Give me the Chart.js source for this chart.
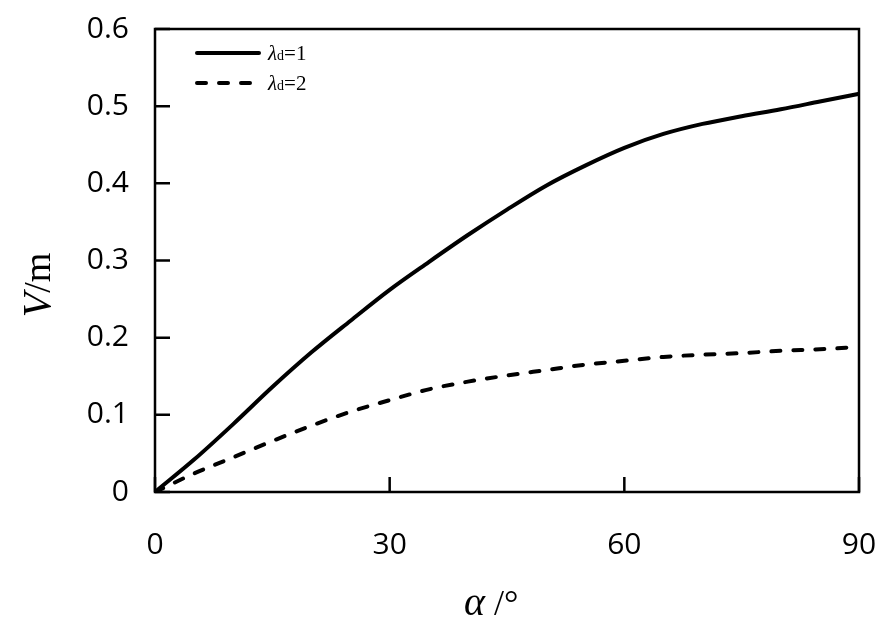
<!DOCTYPE html>
<html>
<head>
	<title>V vs alpha</title>
	<script src="https://cdn.jsdelivr.net/npm/chart.js"></script>
	<style>
		html, body {
			margin: 0;
			padding: 0;
			background: #fff;
		}

		.chart {
			width: 886px;
			height: 642px;
		}
	</style>
</head>

<body>
	<div class="chart">
		<canvas id="myChart"></canvas>
	</div>

	<script>
		// angle alpha in degrees
		var alpha = [ 0, 5, 10, 15, 20, 25, 30, 35, 40, 45, 50, 55, 60, 65, 70, 75, 80, 85, 90 ];

		// V in m, lambda_d = 1 (solid)
		var vLambda1 = [ 0, 0.042, 0.088, 0.136, 0.181, 0.222, 0.262, 0.298, 0.333, 0.366, 0.397, 0.423, 0.446, 0.464, 0.477, 0.487, 0.496, 0.506, 0.516 ];

		// V in m, lambda_d = 2 (dashed)
		var vLambda2 = [ 0, 0.024, 0.045, 0.066, 0.086, 0.104, 0.119, 0.133, 0.143, 0.151, 0.158, 0.165, 0.170, 0.175, 0.178, 0.180, 0.183, 0.185, 0.188 ];

		var legendLabels = [ '1', '2' ];
		var xTicks = [ 0, 30, 60, 90 ];
		var yTicks = [ 0, 0.1, 0.2, 0.3, 0.4, 0.5, 0.6 ];

		var tickFont = "'Open Sans', sans-serif";
		var serif = "'Liberation Serif', 'DejaVu Serif', serif";

		function toPoints( xs, ys ) {
			var pts = [];
			for( var i = 0; i < xs.length; i++ ) {
				pts.push( { x: xs[ i ], y: ys[ i ] } );
			}
			return pts;
		}

		// no extra room for label overhang, layout padding alone sets the plot box
		function noOverhang( scale ) {
			scale.paddingLeft = 0;
			scale.paddingRight = 0;
			scale.paddingTop = 0;
			scale.paddingBottom = 0;
		}

		// frame, inward ticks, axis titles and legend
		var decorations = {
			id: 'decorations',
			afterDraw: function( chart ) {
				var ctx = chart.ctx;
				var a = chart.chartArea;
				var xs = chart.scales.x;
				var ys = chart.scales.y;

				ctx.save();
				ctx.strokeStyle = '#000';
				ctx.lineWidth = 2.5;
				ctx.strokeRect( a.left, a.top, a.right - a.left, a.bottom - a.top );

				ctx.beginPath();
				for( var i = 0; i < xTicks.length; i++ ) {
					var px = xs.getPixelForValue( xTicks[ i ] );
					ctx.moveTo( px, a.bottom );
					ctx.lineTo( px, a.bottom - 15 );
				}
				for( var j = 0; j < yTicks.length; j++ ) {
					var py = ys.getPixelForValue( yTicks[ j ] );
					ctx.moveTo( a.left, py );
					ctx.lineTo( a.left + 15, py );
				}
				ctx.stroke();

				// x title: alpha /°
				ctx.fillStyle = '#000';
				ctx.textBaseline = 'alphabetic';
				ctx.textAlign = 'left';
				ctx.font = 'italic 40px ' + serif;
				var wA = ctx.measureText( 'α' ).width;
				ctx.fillText( 'α', 464, 615 );
				ctx.font = '36px ' + serif;
				ctx.fillText( ' /°', 464 + wA, 615 );

				// y title: V/m, rotated
				ctx.save();
				ctx.translate( 50, 285 );
				ctx.rotate( -Math.PI / 2 );
				ctx.font = 'italic 40px ' + serif;
				var wV = ctx.measureText( 'V' ).width;
				ctx.font = '38px ' + serif;
				var wM = ctx.measureText( '/m' ).width;
				var vx = -( wV + wM ) / 2;
				ctx.font = 'italic 40px ' + serif;
				ctx.fillText( 'V', vx, 0 );
				ctx.font = '38px ' + serif;
				ctx.fillText( '/m', vx + wV, 0 );
				ctx.restore();

				// legend
				var ds = chart.data.datasets;
				for( var k = 0; k < ds.length; k++ ) {
					var ly = a.top + 24 + k * 30;
					ctx.save();
					ctx.lineWidth = ds[ k ].borderWidth;
					ctx.lineCap = 'round';
					ctx.setLineDash( ds[ k ].borderDash || [] );
					ctx.beginPath();
					ctx.moveTo( a.left + 42, ly );
					ctx.lineTo( a.left + 104, ly );
					ctx.stroke();
					ctx.restore();

					var tx = a.left + 113;
					ctx.font = 'italic 21px ' + serif;
					ctx.fillText( 'λ', tx, ly + 7 );
					tx += ctx.measureText( 'λ' ).width;
					ctx.font = '14px ' + serif;
					ctx.fillText( 'd', tx, ly + 7 );
					tx += ctx.measureText( 'd' ).width;
					ctx.font = '21px ' + serif;
					ctx.fillText( '=' + legendLabels[ k ], tx, ly + 7 );
				}

				ctx.restore();
			}
		};

		const ctx = document.getElementById( 'myChart' );

		new Chart( ctx, {
			type: 'line',
			data: {
				datasets: [ {
					label: 'λd=1',
					data: toPoints( alpha, vLambda1 ),
					borderColor: '#000',
					borderWidth: 4,
					pointRadius: 0,
					cubicInterpolationMode: 'monotone',
					fill: false
				}, {
					label: 'λd=2',
					data: toPoints( alpha, vLambda2 ),
					borderColor: '#000',
					borderWidth: 4,
					borderDash: [ 9, 13 ],
					borderCapStyle: 'round',
					pointRadius: 0,
					cubicInterpolationMode: 'monotone',
					fill: false
				} ]
			},
			options: {
				animation: false,
				responsive: true,
				maintainAspectRatio: false,
				layout: {
					padding: { top: 29, right: 27, left: 0, bottom: 0 }
				},
				plugins: {
					legend: { display: false },
					tooltip: { enabled: false }
				},
				scales: {
					x: {
						type: 'linear',
						min: 0,
						max: 90,
						afterFit: function( scale ) {
							scale.height = 150;
							noOverhang( scale );
						},
						afterBuildTicks: function( scale ) {
							scale.ticks = xTicks.map( function( v ) { return { value: v }; } );
						},
						grid: { display: false, drawTicks: false },
						border: { display: false },
						ticks: {
							padding: 35,
							color: '#000',
							font: { family: tickFont, size: 30 }
						}
					},
					y: {
						min: 0,
						max: 0.6,
						afterFit: function( scale ) {
							scale.width = 155;
							noOverhang( scale );
						},
						afterBuildTicks: function( scale ) {
							scale.ticks = yTicks.map( function( v ) { return { value: v }; } );
						},
						grid: { display: false, drawTicks: false },
						border: { display: false },
						ticks: {
							padding: 26,
							color: '#000',
							font: { family: tickFont, size: 30 },
							callback: function( v ) { return v === 0 ? '0' : v.toFixed( 1 ); }
						}
					}
				}
			},
			plugins: [ decorations ]
		} );
	</script>
</body>
</html>
